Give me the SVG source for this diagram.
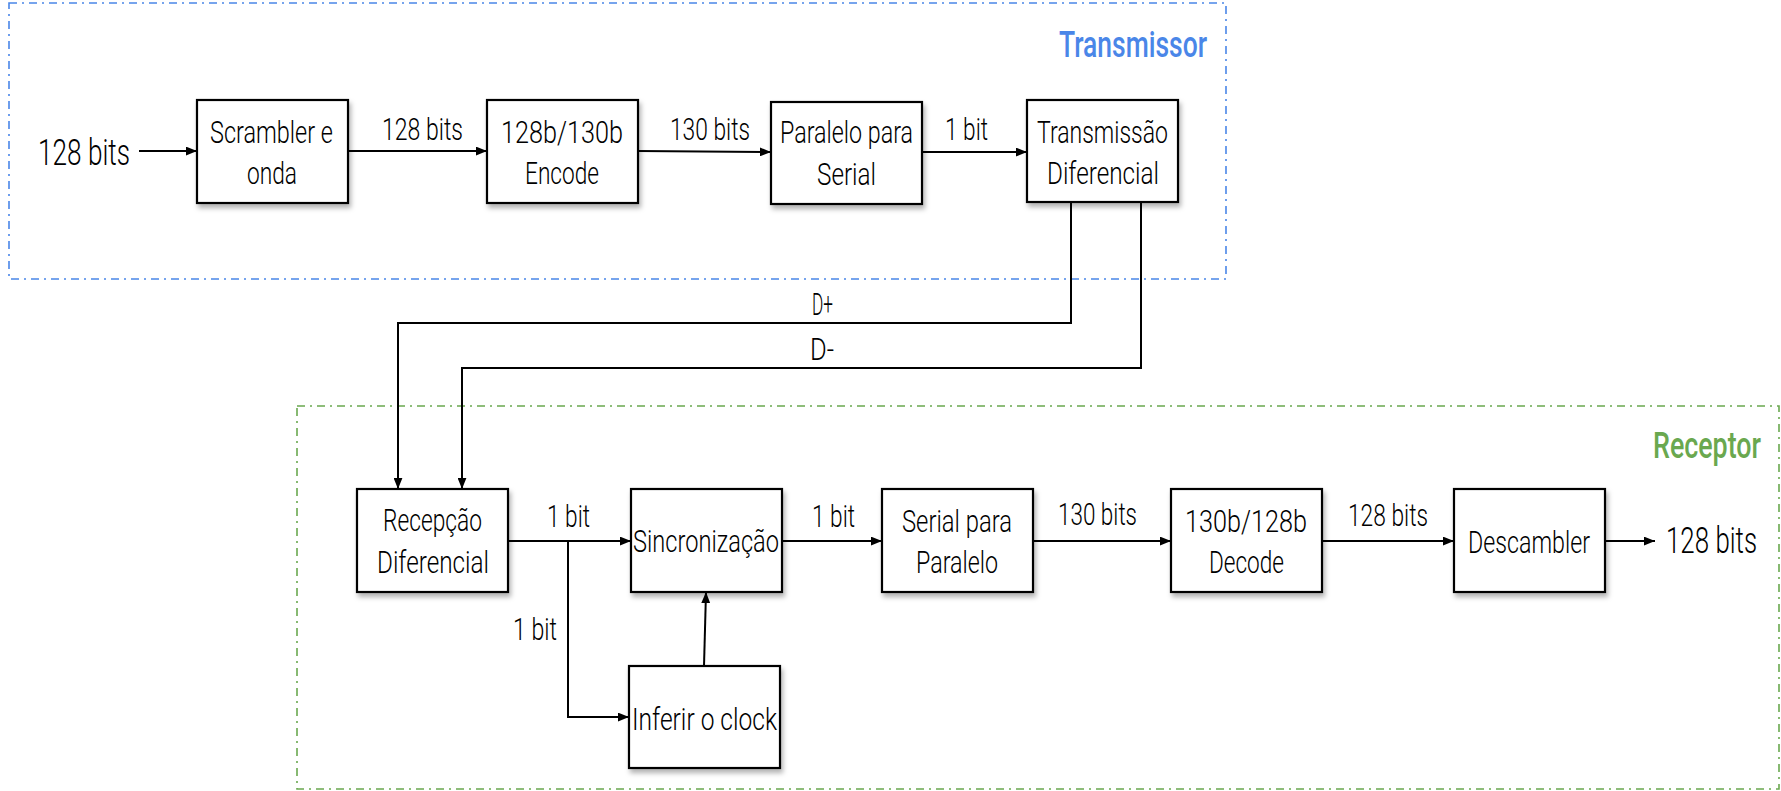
<svg xmlns="http://www.w3.org/2000/svg" width="1781" height="791" viewBox="0 0 1781 791">
<defs>
<style>
.box{fill:#fff;stroke:#000;stroke-width:2.2;filter:url(#sh)}
.t{font-family:Roboto,"Liberation Sans",Arial,sans-serif;font-weight:300;font-size:31px;fill:#000;text-anchor:middle}
.big{font-size:37px}
.title{font-family:Roboto,"Liberation Sans",Arial,sans-serif;font-size:36px;font-weight:500;text-anchor:end}
.edge{fill:none;stroke:#000;stroke-width:2;marker-end:url(#arr)}
.grp{fill:none;stroke-width:1.6;stroke-dasharray:8 5 2 5}
</style>
<filter id="sh" x="-10%" y="-10%" width="130%" height="130%">
<feDropShadow dx="2" dy="4" stdDeviation="2.5" flood-color="#000" flood-opacity="0.3"/>
</filter>
<marker id="arr" viewBox="0 0 10 8" refX="10" refY="4" markerWidth="11" markerHeight="9" markerUnits="userSpaceOnUse" orient="auto">
<path d="M0,0 L10,4 L0,8 Z" fill="#000"/>
</marker>
</defs>
<rect width="1781" height="791" fill="#fff"/>

<g id="transmissor">
<rect class="grp" x="9" y="3" width="1217" height="276" stroke="#4a86e8"/>
<text class="title" x="1207" y="57" fill="#4a86e8" textLength="148" lengthAdjust="spacingAndGlyphs">Transmissor</text>
</g>
<g id="receptor">
<rect class="grp" x="297" y="406" width="1482" height="383" stroke="#6aa84f"/>
<text class="title" x="1761" y="458" fill="#6aa84f" textLength="108" lengthAdjust="spacingAndGlyphs">Receptor</text>
</g>

<g id="connectors">
<path class="edge" d="M139,151 L197,151"/>
<path class="edge" d="M348,151 L487,151"/>
<path class="edge" d="M638,151 L771,152"/>
<path class="edge" d="M922,152 L1027,152"/>
<path class="edge" d="M1071,202 L1071,323 L398,323 L398,489"/>
<path class="edge" d="M1141,202 L1141,368 L462,368 L462,489"/>
<path class="edge" d="M508,541 L631,541"/>
<path class="edge" d="M568,541 L568,717 L629,717"/>
<path class="edge" d="M704,666 L706,592"/>
<path class="edge" d="M782,541 L882,541"/>
<path class="edge" d="M1033,541 L1171,541"/>
<path class="edge" d="M1322,541 L1454,541"/>
<path class="edge" d="M1605,541 L1655,541"/>
<text class="t" x="422.5" y="140" textLength="81" lengthAdjust="spacingAndGlyphs">128 bits</text>
<text class="t" x="710" y="140" textLength="80" lengthAdjust="spacingAndGlyphs">130 bits</text>
<text class="t" x="966.5" y="140" textLength="43" lengthAdjust="spacingAndGlyphs">1 bit</text>
<text class="t" x="822.5" y="315" font-size="28" textLength="21" lengthAdjust="spacingAndGlyphs">D+</text>
<text class="t" x="822" y="360" font-size="28" textLength="24" lengthAdjust="spacingAndGlyphs">D-</text>
<text class="t" x="568.5" y="527" textLength="43" lengthAdjust="spacingAndGlyphs">1 bit</text>
<text class="t" x="535" y="640" textLength="44" lengthAdjust="spacingAndGlyphs">1 bit</text>
<text class="t" x="833.5" y="527" textLength="43" lengthAdjust="spacingAndGlyphs">1 bit</text>
<text class="t" x="1097.5" y="525" textLength="79" lengthAdjust="spacingAndGlyphs">130 bits</text>
<text class="t" x="1388" y="526" textLength="80" lengthAdjust="spacingAndGlyphs">128 bits</text>
</g>

<g id="input">
<text class="t big" x="84" y="165" textLength="92" lengthAdjust="spacingAndGlyphs">128 bits</text>
</g>
<g id="scrambler">
<rect class="box" x="197" y="100" width="151" height="103"/>
<text class="t" x="271.5" y="143" textLength="123" lengthAdjust="spacingAndGlyphs">Scrambler e</text>
<text class="t" x="272" y="184" textLength="50" lengthAdjust="spacingAndGlyphs">onda</text>
</g>
<g id="encode">
<rect class="box" x="487" y="100" width="151" height="103"/>
<text class="t" x="562" y="143" textLength="122" lengthAdjust="spacingAndGlyphs">128b/130b</text>
<text class="t" x="562" y="184" textLength="74" lengthAdjust="spacingAndGlyphs">Encode</text>
</g>
<g id="paralelo-serial">
<rect class="box" x="771" y="102" width="151" height="102"/>
<text class="t" x="846.5" y="143" textLength="133" lengthAdjust="spacingAndGlyphs">Paralelo para</text>
<text class="t" x="846.5" y="185" textLength="59" lengthAdjust="spacingAndGlyphs">Serial</text>
</g>
<g id="transmissao">
<rect class="box" x="1027" y="100" width="151" height="102"/>
<text class="t" x="1102.5" y="143" textLength="131" lengthAdjust="spacingAndGlyphs">Transmissão</text>
<text class="t" x="1103" y="184" textLength="112" lengthAdjust="spacingAndGlyphs">Diferencial</text>
</g>
<g id="recepcao">
<rect class="box" x="357" y="489" width="151" height="103"/>
<text class="t" x="432.5" y="531" textLength="99" lengthAdjust="spacingAndGlyphs">Recepção</text>
<text class="t" x="433" y="573" textLength="112" lengthAdjust="spacingAndGlyphs">Diferencial</text>
</g>
<g id="sincronizacao">
<rect class="box" x="631" y="489" width="151" height="103"/>
<text class="t" x="706" y="552" textLength="146" lengthAdjust="spacingAndGlyphs">Sincronização</text>
</g>
<g id="inferir">
<rect class="box" x="629" y="666" width="151" height="102"/>
<text class="t" x="704.5" y="730" textLength="145" lengthAdjust="spacingAndGlyphs">Inferir o clock</text>
</g>
<g id="serial-paralelo">
<rect class="box" x="882" y="489" width="151" height="103"/>
<text class="t" x="957" y="532" textLength="110" lengthAdjust="spacingAndGlyphs">Serial para</text>
<text class="t" x="957" y="573" textLength="82" lengthAdjust="spacingAndGlyphs">Paralelo</text>
</g>
<g id="decode">
<rect class="box" x="1171" y="489" width="151" height="103"/>
<text class="t" x="1246" y="532" textLength="122" lengthAdjust="spacingAndGlyphs">130b/128b</text>
<text class="t" x="1246.5" y="573" textLength="75" lengthAdjust="spacingAndGlyphs">Decode</text>
</g>
<g id="descambler">
<rect class="box" x="1454" y="489" width="151" height="103"/>
<text class="t" x="1529" y="553" textLength="122" lengthAdjust="spacingAndGlyphs">Descambler</text>
</g>
<g id="output">
<text class="t big" x="1757" y="553" style="text-anchor:end" textLength="91" lengthAdjust="spacingAndGlyphs">128 bits</text>
</g>
</svg>
